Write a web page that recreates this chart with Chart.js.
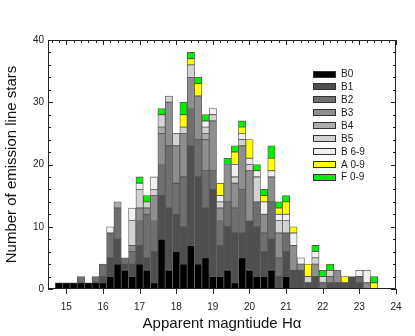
<!DOCTYPE html>
<html>
<head>
<meta charset="utf-8">
<script src="https://cdn.jsdelivr.net/npm/chart.js@4.4.0/dist/chart.umd.min.js"></script>
<style>
  html, body { margin: 0; padding: 0; background: #fff; }
  canvas { display: block; }
</style>
</head>
<body>
<canvas id="c" width="415" height="336"></canvas>
<script>
// bin centres (0.2 mag bins)
const binCenters = [14.8, 15.0, 15.2, 15.4, 15.6, 15.8, 16.0, 16.2, 16.4, 16.6,
  16.8, 17.0, 17.2, 17.4, 17.6, 17.8, 18.0, 18.2, 18.4, 18.6,
  18.8, 19.0, 19.2, 19.4, 19.6, 19.8, 20.0, 20.2, 20.4, 20.6,
  20.8, 21.0, 21.2, 21.4, 21.6, 21.8, 22.0, 22.2, 22.4, 22.6,
  22.8, 23.0, 23.2, 23.4];

const seriesNames = ['B0', 'B1', 'B2', 'B3', 'B4', 'B5', 'B 6-9', 'A 0-9', 'F 0-9'];
const seriesColors = ['#000000', '#4f4f4f', '#6f6f6f', '#8e8e8e', '#adadad', '#d2d2d2', '#f0f0f0', '#ffff00', '#00ee00'];

const b0 = [1,1,1,1,1,1,1,2,4,3, 2,4,3,1,8,3,6,4,7,4, 5,2,2,3,1,5,3,2,2,3, 0,2,0,0,0,0,0,0,0,0, 0,0,0,0];
const b1 = [0,0,0,0,0,0,1,3,4,1, 2,3,2,5,7,10,6,6,16,14, 8,14,5,7,8,4,8,8,4,5, 2,4,3,3,1,2,0,1,1,1, 2,1,0,0];
const b2 = [0,0,0,1,0,1,2,4,5,1, 2,4,7,5,5,10,5,8,6,6, 6,3,4,4,4,7,0,4,3,6, 3,3,0,0,0,0,1,0,0,0, 0,1,0,0];
const b3 = [0,0,0,0,0,0,0,0,0,0, 1,2,1,4,5,7,6,7,5,7, 5,8,2,6,4,7,8,0,3,4, 4,0,4,1,0,2,0,1,2,0, 0,0,1,0];
const b4 = [0,0,0,0,0,0,0,0,1,0, 0,0,0,0,1,0,0,0,0,0, 1,0,0,0,0,0,0,0,0,0, 0,0,0,0,0,0,0,0,0,0, 0,0,0,0];
const b5 = [0,0,0,0,0,0,0,0,0,0, 4,3,1,1,2,1,2,1,2,0, 1,1,1,0,1,1,1,4,0,0, 2,2,0,0,1,1,1,1,0,0, 0,0,0,0];
const b69 = [0,0,0,0,0,0,0,1,0,0, 2,1,0,2,0,0,0,0,0,0, 1,1,1,0,2,1,1,1,2,1, 1,1,2,1,0,1,0,0,0,0, 0,1,2,0];
const a09 = [0,0,0,0,0,0,0,0,0,0, 0,0,0,0,0,0,0,2,1,2, 0,0,2,0,2,1,3,0,1,2, 1,2,1,0,2,0,0,0,0,1, 0,0,0,1];
const f09 = [0,0,0,0,0,0,0,0,0,0, 0,1,1,0,1,0,0,2,1,1, 1,0,0,1,1,1,0,1,1,2, 1,1,0,0,0,1,1,1,0,0, 0,0,0,1];

const xTicks = [15, 16, 17, 18, 19, 20, 21, 22, 23, 24];
const yTicks = [0, 10, 20, 30, 40];

const allSeries = [b0, b1, b2, b3, b4, b5, b69, a09, f09];
const FONT = 'Liberation Sans, Arial, Helvetica, sans-serif';

// frame with inward ticks on all sides + custom legend
const deco = {
  id: 'deco',
  afterDraw(chart) {
    const { ctx, chartArea: a, scales: { x, y } } = chart;
    ctx.save();
    ctx.strokeStyle = '#222';
    ctx.lineWidth = 1;
    ctx.strokeRect(a.left + 0.5, a.top + 0.5, a.right - a.left - 1, a.bottom - a.top - 1);

    ctx.beginPath();
    for (let m = 14.6; m < 24.01; m += 0.2) {
      const major = Math.abs(m - Math.round(m)) < 0.01;
      const px = Math.round(x.getPixelForValue(m)) + 0.5;
      const len = major ? 5 : 3;
      ctx.moveTo(px, a.top); ctx.lineTo(px, a.top + len);
      if (major) { ctx.moveTo(px, a.bottom); ctx.lineTo(px, a.bottom + 5); }
    }
    for (let v = 0; v <= 40; v += 2) {
      const major = v % 10 === 0;
      const py = Math.round(y.getPixelForValue(v)) + 0.5;
      const len = major ? 5 : 3;
      ctx.moveTo(a.left, py); ctx.lineTo(a.left + len, py);
      ctx.moveTo(a.right, py); ctx.lineTo(a.right - len, py);
    }
    ctx.stroke();

    // legend
    ctx.font = '10px ' + FONT;
    ctx.textBaseline = 'middle';
    chart.data.datasets.forEach((ds, i) => {
      const cy = 74 + i * 12.9;
      ctx.fillStyle = ds.backgroundColor;
      ctx.fillRect(313, Math.round(cy - 3.5), 23, 7);
      ctx.strokeStyle = '#333';
      ctx.strokeRect(313.5, Math.round(cy - 3.5) + 0.5, 22, 6);
      ctx.fillStyle = '#222';
      ctx.fillText(ds.label, 341, cy + 0.5);
    });
    ctx.restore();
  }
};

new Chart(document.getElementById('c'), {
  type: 'bar',
  data: {
    datasets: allSeries.map((s, i) => ({
      label: seriesNames[i],
      data: binCenters.map((c, j) => ({ x: c, y: s[j] || null })),
      backgroundColor: seriesColors[i],
      borderColor: '#555',
      borderWidth: 0.8,
      borderSkipped: false,
      barPercentage: 1,
      categoryPercentage: 1
    }))
  },
  options: {
    responsive: false,
    animation: false,
    layout: { padding: { left: 0, right: 19, top: 40, bottom: 0 } },
    plugins: { legend: { display: false }, tooltip: { enabled: false } },
    scales: {
      x: {
        type: 'linear', stacked: true, min: 14.5, max: 24, offset: false,
        afterBuildTicks: s => { s.ticks = xTicks.map(v => ({ value: v })); },
        afterFit: s => { s.height = 47; },
        grid: { display: false, drawTicks: false, offset: false },
        border: { display: false },
        ticks: { color: '#222', font: { family: FONT, size: 10 }, padding: 12, maxRotation: 0, autoSkip: false },
        title: { display: true, text: 'Apparent magntiude H\u03b1', color: '#111',
                 font: { family: FONT, size: 15 }, padding: { top: 0, bottom: 3 } }
      },
      y: {
        stacked: true, min: 0, max: 40,
        afterBuildTicks: s => { s.ticks = yTicks.map(v => ({ value: v })); },
        afterFit: s => { s.width = 48; },
        grid: { display: false, drawTicks: false },
        border: { display: false },
        ticks: { color: '#222', font: { family: FONT, size: 10 }, padding: 4 },
        title: { display: true, text: 'Number of emission line stars', color: '#111',
                 font: { family: FONT, size: 15 }, padding: { top: 3, bottom: 0 } }
      }
    }
  },
  plugins: [deco]
});
</script>
</body>
</html>
